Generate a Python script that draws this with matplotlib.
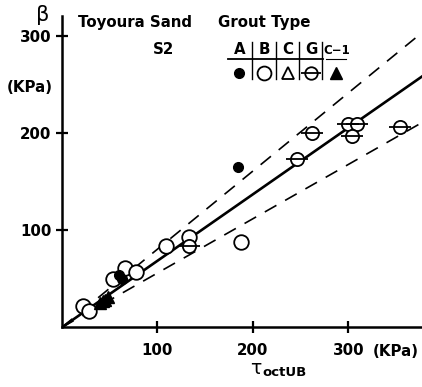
import matplotlib
matplotlib.use("Agg")
import matplotlib.pyplot as plt

plt.rcParams['font.family'] = ['DejaVu Sans']

# grout type A (filled circle)
a_x = [184, 60, 63]
a_y = [165, 54, 50]
# grout type B (open circle)
b_x = [22, 28, 53, 66, 78, 109, 133, 187]
b_y = [22, 17, 50, 61, 57, 84, 93, 88]
# grout type G (circle with bar)
g_x = [133, 246, 262, 299, 309, 304, 354]
g_y = [84, 174, 200, 210, 210, 197, 207]
# grout type C-1 (filled triangle)
c1_x = [40, 43, 45, 48]
c1_y = [25, 27, 28, 31]

# fitted line and bounds (beta / tau)
slope_mean = 0.686
slope_upper = 0.806
slope_lower = 0.56

x_ticks = [100, 200, 300]
y_ticks = [100, 200, 300]

W, H = 422, 387
fig = plt.figure(figsize=(W / 100, H / 100), dpi=100)
ax = fig.add_axes([62 / W, 1 - 327.3 / H, 360 / W, 311.3 / H])
xmax, ymax = 377, 321
ax.set_xlim(0, xmax)
ax.set_ylim(0, ymax)


def px(x, y):
    return x / W, 1 - y / H


FS = 10.8

# lines
ax.plot([0, xmax], [0, slope_mean * xmax], color='black', lw=1.9, zorder=2)
ax.plot([0, xmax], [0, slope_upper * xmax], color='black', lw=1.2,
        dashes=(8, 6), zorder=2)
ax.plot([0, xmax], [0, slope_lower * xmax], color='black', lw=1.2,
        dashes=(8, 6), zorder=2)

# points
ax.plot(b_x, b_y, 'o', ms=10.5, mfc='white', mec='black', mew=1.3, zorder=3)
ax.plot(g_x, g_y, 'o', ms=9.5, mfc='white', mec='black', mew=1.3, zorder=3)
ax.plot(g_x, g_y, '_', ms=16, mec='black', mew=1.3, zorder=4)
ax.plot(a_x, a_y, 'o', ms=7, mfc='black', mec='black', zorder=4)
ax.plot(c1_x, c1_y, '^', ms=9, mfc='black', mec='black', zorder=4)

# axes styling
for side in ['top', 'right']:
    ax.spines[side].set_visible(False)
for side in ['left', 'bottom']:
    ax.spines[side].set_linewidth(1.8)
ax.set_xticks(x_ticks)
ax.set_yticks(y_ticks)
ax.set_xticklabels([str(v) for v in x_ticks])
ax.set_yticklabels([str(v) for v in y_ticks])
ax.tick_params(direction='inout', length=9, width=1.6, labelsize=FS, pad=3)
for lab in ax.get_xticklabels() + ax.get_yticklabels():
    lab.set_fontweight('bold')
ax.tick_params(axis='x', pad=7)

# axis labels
fig.text(*px(43, 15), 'β', fontsize=15, ha='center', va='center')
fig.text(*px(30, 87), '(KPa)', fontsize=FS, fontweight='bold',
         ha='center', va='center')
fig.text(*px(396, 351), '(KPa)', fontsize=FS, fontweight='bold',
         ha='center', va='center')
fig.text(*px(256, 368), 'τ', fontsize=13.5, ha='center', va='center')
fig.text(*px(262, 372), 'octUB', fontsize=9.5, fontweight='bold',
         ha='left', va='center')

# annotations
fig.text(*px(78, 23), 'Toyoura Sand', fontsize=FS, fontweight='bold',
         ha='left', va='center')
fig.text(*px(164, 50), 'S2', fontsize=FS, fontweight='bold',
         ha='center', va='center')
fig.text(*px(218, 23), 'Grout Type', fontsize=FS, fontweight='bold',
         ha='left', va='center')

# grout type table
headers = ['A', 'B', 'C', 'G']
header_x = [240, 264, 288, 311]
for h, hx in zip(headers, header_x):
    fig.text(*px(hx, 50), h, fontsize=FS, fontweight='bold',
             ha='center', va='center')
fig.text(*px(337, 51), 'C−1', fontsize=8.5, fontweight='bold',
         ha='center', va='center')
tf = fig.transFigure
fig.add_artist(plt.Line2D([228 / W, 323 / W], [1 - 59 / H, 1 - 59 / H],
                          color='black', lw=1.3, transform=tf))
fig.add_artist(plt.Line2D([326 / W, 346 / W], [1 - 59 / H, 1 - 59 / H],
                          color='black', lw=0.8, transform=tf))
for vx in [252, 276, 299, 322]:
    fig.add_artist(plt.Line2D([vx / W, vx / W], [1 - 42 / H, 1 - 79 / H],
                              color='black', lw=1.0, transform=tf))

sym_y = 1 - 73 / H
fig.add_artist(plt.Line2D([239 / W], [sym_y], marker='o', ms=7,
                          mfc='black', mec='black', ls='none', transform=tf))
fig.add_artist(plt.Line2D([264 / W], [sym_y], marker='o', ms=10,
                          mfc='white', mec='black', mew=1.3, ls='none', transform=tf))
fig.add_artist(plt.Line2D([288 / W], [sym_y], marker='^', ms=9,
                          mfc='white', mec='black', mew=1.3, ls='none', transform=tf))
fig.add_artist(plt.Line2D([311 / W], [sym_y], marker='o', ms=9,
                          mfc='white', mec='black', mew=1.3, ls='none', transform=tf))
fig.add_artist(plt.Line2D([311 / W], [sym_y], marker='_', ms=14,
                          mec='black', mew=1.3, ls='none', transform=tf))
fig.add_artist(plt.Line2D([336 / W], [sym_y], marker='^', ms=9,
                          mfc='black', mec='black', ls='none', transform=tf))

fig.savefig('out.png', dpi=100)
